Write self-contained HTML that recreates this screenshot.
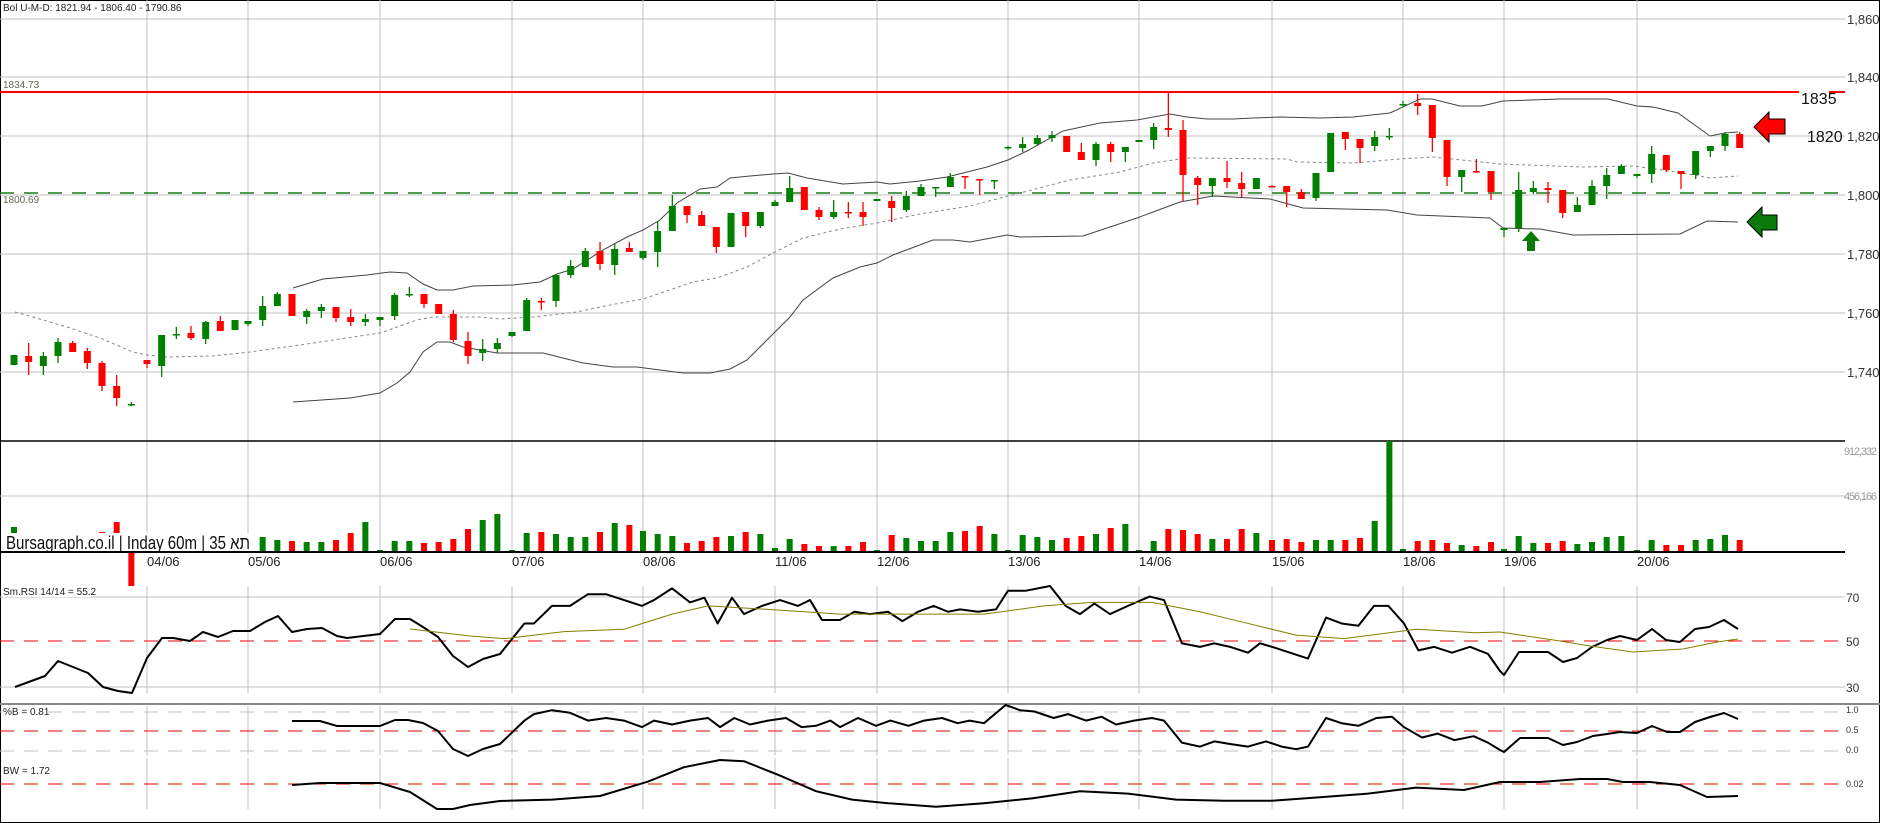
<!DOCTYPE html>
<html><head><meta charset="utf-8"><style>
html,body{margin:0;padding:0;background:#fff;}
svg{display:block;font-family:"Liberation Sans",sans-serif;}
</style></head><body>
<svg id="c" width="1880" height="823" xmlns="http://www.w3.org/2000/svg"></svg>
<script>
const S=document.getElementById('c');let h='';
const R=1845;
h+='<rect x="0.5" y="0.5" width="1879" height="822" fill="#fff" stroke="#000"/>';
const grid=[147,248,380,512,643,775,877,1008,1139,1272,1403,1504,1637];
const dates=['04/06','05/06','06/06','07/06','08/06','11/06','12/06','13/06','14/06','15/06','18/06','19/06','20/06'];
grid.forEach(x=>{h+=`<line x1="${x}" y1="0" x2="${x}" y2="441" stroke="#c0c0c0"/>`;
h+=`<line x1="${x}" y1="441" x2="${x}" y2="552" stroke="#c0c0c0"/>`;
h+=`<line x1="${x}" y1="586" x2="${x}" y2="693" stroke="#c0c0c0"/>`;
h+=`<line x1="${x}" y1="706" x2="${x}" y2="755" stroke="#c0c0c0"/>`;
h+=`<line x1="${x}" y1="758" x2="${x}" y2="809" stroke="#c0c0c0"/>`;});
[[19,'1,860'],[77,'1,840'],[136,'1,820'],[195,'1,800'],[254,'1,780'],[313,'1,760'],[372,'1,740']].forEach(([y,t])=>{
h+=`<line x1="0" y1="${y}" x2="${R}" y2="${y}" stroke="#c0c0c0"/>`;
h+=`<text x="1847" y="${y+5}" font-size="13" fill="#333">${t}</text>`;});
h+=`<line x1="0" y1="496" x2="${R}" y2="496" stroke="#c0c0c0"/>`;
h+=`<text x="1844" y="455" font-size="11" fill="#999" textLength="33">912,332</text><text x="1844" y="500" font-size="11" fill="#999" textLength="33">456,166</text>`;
h+=`<line x1="0" y1="441" x2="${R}" y2="441" stroke="#000" stroke-width="1.5"/>`;
h+=`<line x1="0" y1="92" x2="1799" y2="92" stroke="#f00" stroke-width="2"/><line x1="1829" y1="92" x2="${R}" y2="92" stroke="#f00" stroke-width="2"/>`;
h+=`<text x="1801" y="104" font-size="16" fill="#111">1835</text><text x="1807" y="142" font-size="16" fill="#111">1820</text>`;
h+=`<line x1="0" y1="193" x2="${R}" y2="193" stroke="#1a7a1a" stroke-width="1.5" stroke-dasharray="14,10"/>`;
h+=`<text x="3" y="88" font-size="10" fill="#665">1834.73</text><text x="3" y="203" font-size="10" fill="#665">1800.69</text>`;
h+=`<text x="3" y="11" font-size="10" fill="#222">Bol U-M-D: 1821.94 - 1806.40 - 1790.86</text>`;
function poly(pts,st){return `<polyline fill="none" points="${pts.map(p=>p.join(',')).join(' ')}" ${st}/>`;}
const up=[[293,288],[323,279],[367,275],[390,272],[407,273],[423,284],[437,290],[453,290],[473,286],[513,285],[540,282],[557,274],[573,269],[603,250],[627,237],[643,230],[660,220],[677,203],[700,189],[717,187],[730,178],[750,176],[773,174],[788,173],[807,178],[843,184],[877,182],[890,184],[920,181],[947,177],[987,167],[1008,160],[1027,151],[1063,131],[1100,123],[1137,120],[1170,114],[1187,117],[1207,119],[1233,119],[1253,118],[1280,117],[1320,118],[1353,117],[1390,113],[1420,99],[1432,99],[1460,106],[1482,106],[1503,101],[1560,99],[1608,99],[1637,106],[1653,107],[1678,113],[1710,136],[1725,133],[1738,132]];
const mid=[[15,312],[33,317],[67,327],[100,338],[133,352],[147,355],[167,357],[213,356],[250,352],[300,345],[333,340],[380,333],[417,320],[433,317],[480,317],[500,319],[533,317],[577,312],[610,305],[643,299],[693,282],[717,278],[747,267],[773,253],[803,238],[840,229],[877,223],[920,214],[970,206],[1020,193],[1070,180],[1120,172],[1153,163],[1187,158],[1287,159],[1297,162],[1353,163],[1400,159],[1433,157],[1500,164],[1583,167],[1633,166],[1683,173],[1710,178],[1738,176]];
const lo=[[293,402],[350,398],[380,393],[397,383],[410,372],[423,352],[437,342],[450,342],[463,347],[480,350],[497,353],[543,353],[583,363],[613,367],[637,367],[683,373],[710,373],[730,369],[747,360],[790,317],[803,300],[833,278],[860,267],[877,263],[893,255],[933,240],[953,240],[970,242],[1007,235],[1020,237],[1083,236],[1137,218],[1153,212],[1180,202],[1213,196],[1270,199],[1303,208],[1387,210],[1417,215],[1490,218],[1503,228],[1540,229],[1573,235],[1680,234],[1707,221],[1738,222]];
h+=poly(up,'stroke="#444" stroke-width="1"');h+=poly(lo,'stroke="#444" stroke-width="1"');
h+=poly(mid,'stroke="#888" stroke-width="1" stroke-dasharray="3,3"');
const C=[
['g',355,365,355,365],['r',356,362,343,375],['g',356,366,352,375],['g',342,356,338,363],['r',343,352,341,352],['r',351,363,348,369],['r',363,386,361,391],['r',386,398,375,406],['g',404,404,402,406],
['r',360,364,360,368],['g',335,366,335,377],['g',334,334,327,339],['r',333,338,326,340],['g',322,339,321,344],['r',321,331,316,331],['g',320,330,320,330],
['g',321,324,321,326],['g',306,320,296,326],['g',294,306,292,306],['r',294,316,294,316],['g',311,317,309,324],['g',307,311,304,318],['r',307,318,307,322],['r',317,322,309,326],['g',319,322,314,326],
['g',317,320,317,326],['g',295,316,293,320],['g',294,294,287,297],['r',294,304,294,308],['r',304,314,304,314],['r',314,340,310,342],['r',341,356,332,364],['g',349,353,339,361],['g',343,349,338,353],
['g',332,336,332,337],['g',300,331,298,331],['r',301,301,298,310],['g',275,301,274,307],['g',266,275,260,278],['g',251,267,248,267],['r',251,264,242,270],['g',249,265,243,275],['r',248,252,242,252],
['g',251,258,251,260],['g',231,252,221,267],['g',206,231,195,231],['r',206,215,206,223],['r',215,226,211,226],['r',227,247,227,253],['g',213,247,213,247],['r',212,226,212,237],['g',212,226,212,228],
['g',202,206,200,206],['g',188,202,176,202],['r',187,210,187,210],['r',210,217,207,220],['g',212,217,200,219],['r',212,212,202,218],['r',212,217,202,226],
['g',199,201,199,201],['r',201,208,196,222],['g',196,210,191,212],['g',187,196,184,196],['g',187,187,187,197],['g',177,187,173,187],['r',176,176,176,189],['r',179,179,179,195],['g',180,180,180,189],
['g',147,147,146,150],['g',144,148,137,152],['g',138,144,135,146],['g',135,138,131,142],['r',136,152,136,152],['r',152,160,143,160],['g',144,160,142,166],['r',144,152,142,162],['g',147,152,147,162],
['g',140,142,140,142],['g',127,140,123,149],['r',128,130,93,137],['r',130,175,120,201],['r',178,185,176,205],['g',178,186,178,197],['r',178,182,161,188],['r',183,189,172,198],['g',178,189,178,189],
['r',186,186,185,187],['r',186,192,186,207],['r',192,199,189,199],['g',173,198,173,201],['g',133,172,133,172],['r',132,139,132,150],['r',139,148,139,163],['g',137,146,131,151],['g',136,136,128,140],
['g',104,104,101,106],['r',103,106,94,115],['r',105,138,105,152],['r',140,177,140,186],['g',170,177,170,192],['r',171,171,159,173],['r',171,192,171,200],
['g',228,230,228,237],['g',190,228,172,232],['g',188,192,181,194],['r',188,190,182,203],['r',190,213,190,218],['g',205,212,197,212],['g',186,205,180,205],['g',175,186,168,199],['g',166,174,164,174],
['g',174,176,174,178],['g',154,174,146,183],['r',155,170,155,172],['r',171,174,171,189],['g',151,175,151,179],['g',146,151,146,157],['g',134,146,132,151],['r',134,148,132,148]];
const days=[[14,9],[147,7],[248,9],[380,9],[512,9],[643,9],[775,7],[877,9],[1008,9],[1139,9],[1272,9],[1403,7],[1504,9],[1637,8]];
const X=[];days.forEach(([g,n])=>{for(let k=0;k<n;k++)X.push(g+k*14.67);});
const col={g:'#007f00',r:'#ff0000'};
C.forEach((c,i)=>{const x=X[i];if(x===undefined)return;const f=col[c[0]];
h+=`<line x1="${x}" y1="${c[3]}" x2="${x}" y2="${c[4]}" stroke="${f}" stroke-width="1.3"/>`;
const bh=Math.max(c[2]-c[1],1.5);h+=`<rect x="${x-3.5}" y="${c[1]}" width="7" height="${bh}" fill="${f}"/>`;});
h+=`<polygon points="1754,127 1769,112 1769,119 1785,119 1785,134 1769,134 1769,142" fill="#f00" stroke="#000" stroke-width="1"/>`;
h+=`<polygon points="1747,222 1762,207 1762,215 1777,215 1777,230 1762,230 1762,237" fill="#0a7a0a" stroke="#000" stroke-width="1"/>`;
h+=`<polygon points="1531,231 1540,241 1535,241 1535,251 1527,251 1527,241 1522,241" fill="#0a7a0a"/>`;
const V=[527,552,552,552,552,552,532,522,552,552,552,552,552,552,552,552,552,537,540,541,542,542,540,533,522,550,541,541,543,542,539,529,520,514,550,533,532,534,537,537,532,523,525,531,534,536,543,541,537,536,532,534,548,539,544,546,546,546,542,550,535,538,541,541,532,531,526,534,550,535,537,540,538,536,534,528,524,550,541,529,530,534,539,539,529,533,540,539,542,540,540,540,538,521,441,549,541,540,543,545,546,542,549,536,543,543,541,544,542,537,536,550,540,545,545,540,539,535,540];
V.forEach((t,i)=>{const c=C[i]?col[C[i][0]]:'#007f00';h+=`<rect x="${X[i]-3}" y="${t}" width="6" height="${552-t}" fill="${c}"/>`;});
h+=`<rect x="${X[8]-3}" y="552" width="6" height="34" fill="#f00"/>`;
h+=`<rect x="5" y="533" width="247" height="18" fill="#fff"/><text x="6" y="549" font-size="18" fill="#111" textLength="244" lengthAdjust="spacingAndGlyphs" font-family="Liberation Sans,Noto Sans CJK JP,sans-serif">Bursagraph.co.il | Inday 60m | 35 תא</text>`;
h+=`<line x1="0" y1="552" x2="${R}" y2="552" stroke="#000" stroke-width="2"/>`;
grid.forEach((x,i)=>{h+=`<text x="${x}" y="566" font-size="13" fill="#222">${dates[i]}</text>`;});
h+=`<line x1="0" y1="597" x2="${R}" y2="597" stroke="#c0c0c0"/><line x1="0" y1="687" x2="${R}" y2="687" stroke="#c0c0c0"/>`;
h+=`<line x1="0" y1="641" x2="${R}" y2="641" stroke="#e00" stroke-dasharray="14,10"/>`;
h+=`<text x="1846" y="602" font-size="12" fill="#333">70</text><text x="1846" y="646" font-size="12" fill="#333">50</text><text x="1846" y="692" font-size="12" fill="#333">30</text>`;
const rz=[[15,687],[45,676],[58,661],[88,673],[103,687],[118,691],[132,693],[147,658],[162,638],[173,638],[190,641],[203,632],[218,637],[233,631],[250,631],[265,622],[278,616],[292,632],[307,629],[322,628],[337,636],[347,638],[380,634],[395,619],[410,619],[423,627],[438,637],[453,656],[468,667],[483,659],[500,654]];
const rp=[[437,520],[445,520],[460,505],[475,505],[490,495],[505,495],[520,500],[535,505],[545,500],[560,490],[575,502],[587,498],[598,520],[610,498],[620,512],[635,505],[650,500],[665,505],[675,500],[685,517],[700,517],[712,510],[725,512],[740,510],[752,518],[765,510],[778,505],[790,510],[800,508],[815,510],[830,508],[840,492],[855,492],[875,488],[888,505],[900,512],[912,503],[925,512],[940,505],[958,497],[970,500],[985,537],[1000,540],[1012,537],[1025,540],[1040,545],[1050,537],[1060,540],[1075,545],[1090,550],[1105,515],[1118,520],[1132,522],[1145,505],[1157,505],[1170,520],[1182,543],[1195,540],[1210,545],[1225,540],[1240,546]].map(([x,y])=>[x*1.2,641+(y-535)*1.17]);
const rt=[[1500,671],[1504,675],[1519,652],[1548,652],[1563,662],[1577,658],[1592,647],[1607,640],[1620,636],[1637,640],[1652,629],[1666,640],[1680,642],[1695,629],[1709,627],[1724,620],[1738,629]];
h+=poly(rz.concat(rp,rt),'stroke="#000" stroke-width="2" stroke-linejoin="round"');
const ol=[[410,629],[470,636]].concat([[420,533],[470,527],[520,525],[560,512],[590,505],[640,508],[700,512],[760,512],[820,512],[870,505],[910,502],[960,502],[1000,510],[1040,520],[1080,530],[1120,533],[1180,525],[1230,528]].map(([x,y])=>[x*1.2,641+(y-535)*1.17]),[[1500,632],[1560,641],[1590,646],[1633,652],[1683,649],[1717,642],[1738,639]]);
h+=poly(ol,'stroke="#808000" stroke-width="1"');
h+=`<rect x="3" y="584" width="88" height="13" fill="#fff"/><text x="3" y="595" font-size="10" fill="#222">Sm.RSI 14/14 = 55.2</text>`;
h+=`<line x1="0" y1="704" x2="1880" y2="704" stroke="#888" stroke-width="2"/>`;
h+=`<line x1="0" y1="712" x2="${R}" y2="712" stroke="#c0c0c0" stroke-dasharray="14,10"/><line x1="0" y1="751" x2="${R}" y2="751" stroke="#c0c0c0" stroke-dasharray="14,10"/>`;
h+=`<line x1="0" y1="731" x2="${R}" y2="731" stroke="#e00" stroke-dasharray="14,10"/>`;
h+=`<text x="1846" y="713" font-size="9" fill="#333">1.0</text><text x="1846" y="733" font-size="9" fill="#333">0.5</text><text x="1846" y="753" font-size="9" fill="#333">0.0</text>`;
const bz=[[292,721],[320,721],[337,726],[380,726],[395,720],[408,720],[423,723],[438,731],[453,749],[468,756],[483,749],[500,744]];
const bp=[[437,600],[445,595],[460,592],[475,594],[490,600],[505,598],[520,600],[535,605],[545,600],[560,603],[575,600],[590,598],[600,605],[612,598],[625,603],[640,600],[655,598],[668,605],[680,604],[692,600],[700,605],[715,598],[730,604],[742,600],[757,604],[770,600],[785,598],[798,602],[808,600],[820,602],[838,588],[850,592],[862,593],[878,598],[890,595],[905,600],[918,597],[930,603],[945,600],[960,598],[970,600],[985,617],[1000,620],[1012,616],[1025,618],[1040,620],[1055,616],[1068,620],[1080,622],[1090,620],[1105,598],[1118,602],[1132,604],[1147,598],[1160,597],[1170,605],[1185,613],[1198,610],[1212,615],[1228,612],[1240,617]].map(([x,y])=>[x*1.2,731+(y-608)*1.3]);
const bt=[[1500,750],[1504,752],[1520,738],[1548,738],[1563,745],[1577,742],[1593,736],[1607,734],[1620,732],[1637,733],[1652,726],[1667,732],[1680,732],[1695,722],[1710,717],[1724,713],[1738,719]];
h+=poly(bz.concat(bp,bt),'stroke="#000" stroke-width="2" stroke-linejoin="round"');
h+=`<rect x="3" y="705" width="42" height="12" fill="#fff"/><text x="3" y="715" font-size="10" fill="#222">%B = 0.81</text>`;
h+=`<line x1="0" y1="784" x2="${R}" y2="784" stroke="#e00" stroke-dasharray="14,10"/>`;
h+=`<text x="1846" y="787" font-size="9" fill="#333">0.02</text>`;
const wz=[[292,785],[320,783],[380,783],[410,792],[437,809],[453,809],[470,805],[500,801]];
const wp=[[460,665],[500,662],[540,650],[570,638],[600,632],[620,633],[650,645],[680,658],[710,665],[740,668],[780,671],[820,668],[860,664],[900,658],[940,660],[980,665],[1020,666],[1060,666],[1100,663],[1140,660],[1180,655],[1220,657]].map(([x,y])=>[x*1.2,784+(y-652)*1.2]);
const wt=[[1500,782],[1540,782],[1580,779],[1607,779],[1623,782],[1650,782],[1680,785],[1707,797],[1738,796]];
h+=poly(wz.concat(wp,wt),'stroke="#000" stroke-width="2" stroke-linejoin="round"');
h+=`<text x="3" y="774" font-size="10" fill="#222">BW = 1.72</text>`;
h+=`<line x1="0" y1="822.5" x2="1880" y2="822.5" stroke="#000"/>`;
S.innerHTML=h;
</script>
</body></html>
